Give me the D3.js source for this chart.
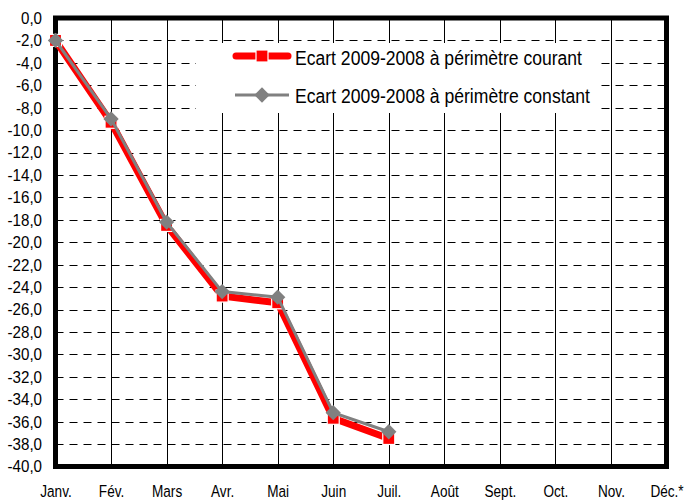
<!DOCTYPE html>
<html><head><meta charset="utf-8">
<script src="https://cdn.jsdelivr.net/npm/d3@7"></script>
<style>
body{margin:0;background:#fff;}
text{font-family:"Liberation Sans",Arial,sans-serif;fill:#000;}
</style></head>
<body><svg id="c" width="697" height="501"></svg>
<script>
const months = ["Janv.","Fév.","Mars","Avr.","Mai","Juin","Juil.","Août","Sept.","Oct.","Nov.","Déc.*"];
const courant = [-2.0,-9.3,-18.5,-24.8,-25.4,-35.7,-37.5];
const constant = [-2.0,-9.0,-18.2,-24.4,-24.9,-35.2,-36.9];
const yTicks = d3.range(0,-40.1,-2);
const seriesNames = ["Ecart 2009-2008 à périmètre courant","Ecart 2009-2008 à périmètre constant"];

const svg = d3.select("#c");
const L=55.5, R=666.5, T=18, B=466.5;
const x = d3.scalePoint().domain(months).range([L,R]);
const y = d3.scaleLinear().domain([0,-40]).range([T,B]);
const fmt = v => (v===0?"0,0":d3.format(".1f")(v).replace(".",",").replace("−","-"));

// horizontal dashed grid
svg.append("g").selectAll("line").data(yTicks.filter(v=>v!==0 && v!==-40)).join("line")
  .attr("x1",L).attr("x2",R).attr("y1",d=>Math.round(y(d))+0.5).attr("y2",d=>Math.round(y(d))+0.5)
  .attr("stroke","#000").attr("stroke-width",1).attr("stroke-dasharray","8,6");
// vertical grid
svg.append("g").selectAll("line").data(months.slice(1,-1)).join("line")
  .attr("x1",d=>Math.round(x(d))+0.5).attr("x2",d=>Math.round(x(d))+0.5).attr("y1",T).attr("y2",B)
  .attr("stroke","#000").attr("stroke-width",1);

// legend box (white, covers grid)
svg.append("rect").attr("x",196).attr("y",43).attr("width",404).attr("height",70).attr("fill","#fff");

// border
svg.append("rect").attr("x",L).attr("y",T).attr("width",R-L).attr("height",B-T)
  .attr("fill","none").attr("stroke","#000").attr("stroke-width",5);

// y axis labels
const yAxis = d3.axisLeft(y).tickValues(yTicks).tickFormat(fmt).tickSize(0).tickPadding(0);
const ga = svg.append("g").attr("transform",`translate(42,0)`).call(yAxis);
ga.select(".domain").remove();
ga.selectAll("text").attr("font-size",17).attr("font-family",null).attr("fill","#000")
  .attr("transform","scale(0.89,1)");

// x axis labels
const xAxis = d3.axisBottom(x).tickSize(0).tickPadding(0);
const gx = svg.append("g").attr("transform",`translate(0,497)`).call(xAxis);
gx.select(".domain").remove();
gx.selectAll("text").attr("font-size",17).attr("font-family",null).attr("fill","#000")
  .attr("y",0).attr("dy",null).attr("transform","scale(0.8,1)");

// series
const line = d3.line().x((d,i)=>x(months[i])).y(d=>y(d));
svg.append("path").datum(courant).attr("d",line).attr("fill","none")
  .attr("stroke","#ff0000").attr("stroke-width",7).attr("stroke-linejoin","round");
svg.append("g").selectAll("rect").data(courant).join("rect")
  .attr("x",(d,i)=>x(months[i])-6).attr("y",d=>y(d)-6).attr("width",12).attr("height",12)
  .attr("fill","#ff0000").attr("stroke","#fff").attr("stroke-width",1.2);
svg.append("path").datum(constant).attr("d",line).attr("fill","none")
  .attr("stroke","#808080").attr("stroke-width",3);
const diamond = d3.symbol().type(d3.symbolDiamond2).size(150);
svg.append("g").selectAll("path").data(constant).join("path")
  .attr("d",diamond).attr("transform",(d,i)=>`translate(${x(months[i])},${y(d)})`)
  .attr("fill","#808080");

// legend
const lg = svg.append("g");
lg.append("line").attr("x1",236).attr("x2",288).attr("y1",56).attr("y2",56)
  .attr("stroke","#ff0000").attr("stroke-width",7).attr("stroke-linecap","round");
lg.append("rect").attr("x",256).attr("y",50).attr("width",12).attr("height",12)
  .attr("fill","#ff0000").attr("stroke","#fff").attr("stroke-width",1.2);
lg.append("text").attr("x",295).attr("y",65).attr("font-size",20)
  .attr("textLength",287).attr("lengthAdjust","spacingAndGlyphs").text(seriesNames[0]);
lg.append("line").attr("x1",235).attr("x2",289).attr("y1",95).attr("y2",95)
  .attr("stroke","#808080").attr("stroke-width",3);
lg.append("path").attr("d",diamond).attr("transform","translate(262,95)").attr("fill","#808080");
lg.append("text").attr("x",295).attr("y",103).attr("font-size",20)
  .attr("textLength",295).attr("lengthAdjust","spacingAndGlyphs").text(seriesNames[1]);
</script></body></html>
